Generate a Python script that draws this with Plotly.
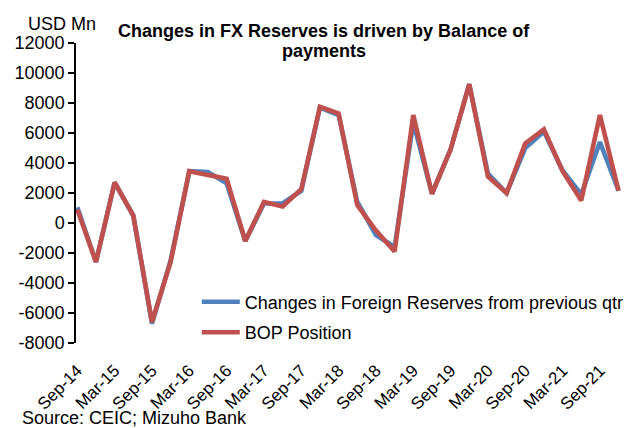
import plotly.graph_objects as go

quarters = [
    "Sep-14", "Dec-14", "Mar-15", "Jun-15", "Sep-15", "Dec-15",
    "Mar-16", "Jun-16", "Sep-16", "Dec-16", "Mar-17", "Jun-17",
    "Sep-17", "Dec-17", "Mar-18", "Jun-18", "Sep-18", "Dec-18",
    "Mar-19", "Jun-19", "Sep-19", "Dec-19", "Mar-20", "Jun-20",
    "Sep-20", "Dec-20", "Mar-21", "Jun-21", "Sep-21", "Dec-21",
]
fx_reserve_change = [
    1050, -2600, 2700, 500, -6700, -2500,
    3450, 3400, 2650, -1200, 1300, 1300,
    2150, 7700, 7200, 1400, -800, -1600,
    6700, 1950, 4900, 9250, 3300, 2000,
    5000, 6100, 3500, 1900, 5400, 2150,
]
bop_position = [
    900, -2600, 2700, 500, -6600, -2600,
    3450, 3200, 2950, -1200, 1400, 1100,
    2250, 7750, 7300, 1200, -500, -1900,
    7200, 1950, 4900, 9250, 3100, 2000,
    5300, 6250, 3450, 1500, 7200, 2150,
]
x_tick_labels = quarters[::2]
y_tick_values = [-8000, -6000, -4000, -2000, 0, 2000, 4000, 6000, 8000, 10000, 12000]
y_tick_labels = ["-8000", "-6000", "-4000", "-2000", "0", "2000", "4000",
                 "6000", "8000", "10000", "12000"]

FONT = "Liberation Sans, Arial, sans-serif"
BLUE = "#4F81BD"
RED = "#C0504D"

fig = go.Figure()
fig.add_trace(go.Scatter(
    x=quarters, y=fx_reserve_change, mode="lines",
    name="Changes in Foreign Reserves from previous qtr",
    legendgroup="reserves",
    line=dict(color=BLUE, width=4.6),
))
fig.add_trace(go.Scatter(
    x=quarters, y=bop_position, mode="lines",
    name="BOP Position",
    legendgroup="bop",
    line=dict(color=RED, width=4.6),
))

x_range = [-0.07, 29.13]

fig.update_layout(
    width=628, height=428,
    margin=dict(l=76, r=7, t=43, b=85, autoexpand=False),
    paper_bgcolor="white", plot_bgcolor="white",
    font=dict(family=FONT, size=18, color="black"),
    showlegend=True,
    legend=dict(
        x=0.2216, y=0.198, xanchor="left", yanchor="top",
        bgcolor="rgba(0,0,0,0)", font=dict(size=18),
        itemwidth=38, traceorder="grouped", tracegroupgap=4,
    ),
    # bottom axis carries only the rotated date labels; the invisible
    # ticks push the labels down below the plot edge
    xaxis=dict(
        type="category", categoryarray=quarters, range=x_range,
        tickvals=x_tick_labels, ticktext=x_tick_labels, tickangle=-45,
        ticks="outside", ticklen=10, tickcolor="rgba(0,0,0,0)",
        showline=False, showgrid=False, zeroline=False,
        tickfont=dict(size=17), automargin=False,
    ),
    # horizontal axis line drawn through y = 0, with its tick marks
    xaxis2=dict(
        type="category", categoryarray=quarters, range=x_range,
        overlaying="x", anchor="free", position=0.4,
        tickvals=x_tick_labels, showticklabels=False,
        showline=True, linecolor="black", linewidth=1.5,
        ticks="outside", ticklen=6, tickcolor="black", tickwidth=1.5,
        showgrid=False, zeroline=False,
    ),
    yaxis=dict(
        range=[-8000, 12000], tickvals=y_tick_values, ticktext=y_tick_labels,
        showline=True, linecolor="black", linewidth=1.5,
        ticks="outside", ticklen=6, tickcolor="black", tickwidth=1.5,
        showgrid=False, zeroline=False, tickfont=dict(size=18),
        automargin=False,
    ),
    annotations=[
        dict(text="USD Mn", xref="paper", yref="paper", x=-0.0248, y=1.0633,
             xanchor="center", yanchor="middle", showarrow=False,
             font=dict(size=18)),
        dict(text="<b>Changes in FX Reserves is driven by Balance of</b>",
             xref="paper", yref="paper", x=0.4553, y=1.0397,
             xanchor="center", yanchor="middle", showarrow=False,
             font=dict(size=18)),
        dict(text="<b>payments</b>", xref="paper", yref="paper",
             x=0.4553, y=0.9747, xanchor="center", yanchor="middle",
             showarrow=False, font=dict(size=18)),
        dict(text="Source: CEIC; Mizuho Bank", xref="paper", yref="paper",
             x=-0.1028, y=-0.249, xanchor="left", yanchor="middle",
             showarrow=False, font=dict(size=18)),
    ],
)

fig.write_html("out.html")
